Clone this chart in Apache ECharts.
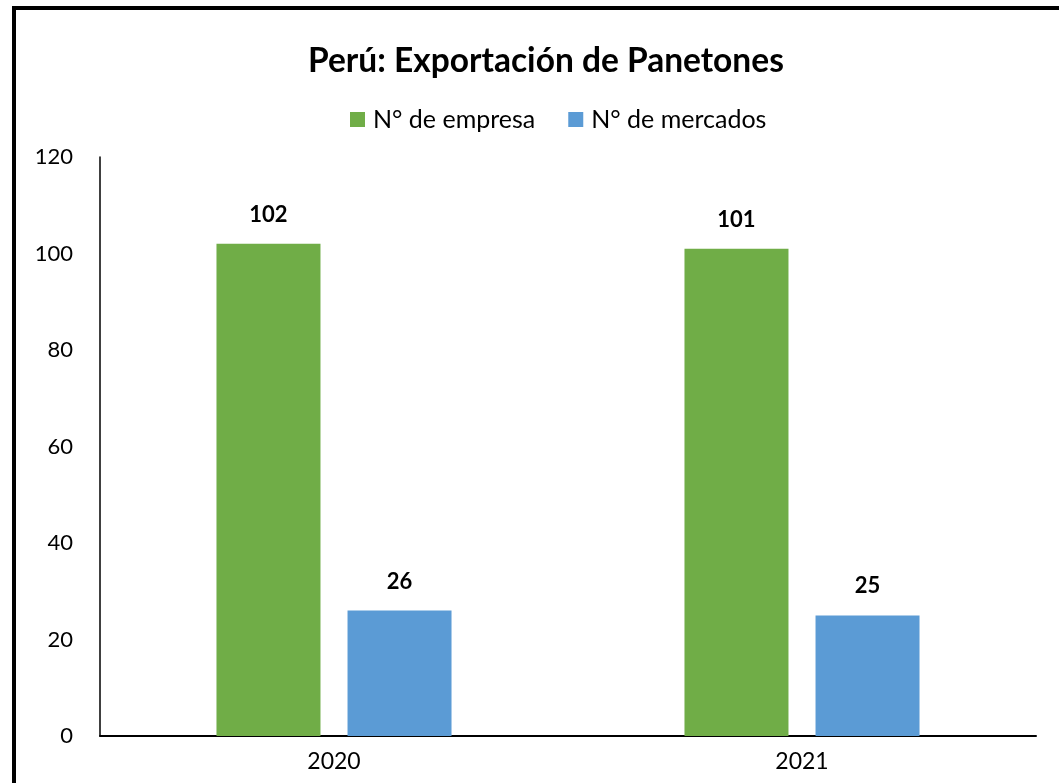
<!DOCTYPE html>
<html>
<head>
<meta charset="utf-8">
<script src="https://cdn.jsdelivr.net/npm/echarts@6/dist/echarts.min.js"></script>
<style>
  html, body { margin: 0; padding: 0; background: #fff; }
  #chart { width: 1059px; height: 783px; }
</style>
</head>
<body>
<div id="chart"></div>
<script>
const years = ['2020', '2021'];
const empresas = [102, 101];
const mercados = [26, 25];
const yTicks = [0, 20, 40, 60, 80, 100, 120];

const font = 'Lato, "Open Sans", sans-serif';

const chart = echarts.init(document.getElementById('chart'));

const labelStyle = {
  show: true,
  position: 'top',
  distance: 18,
  color: '#000',
  fontWeight: 'bold',
  fontSize: 22,
  fontFamily: font
};

chart.setOption({
  backgroundColor: '#fff',
  graphic: [{
    type: 'rect',
    shape: { x: 14, y: 8, width: 1100, height: 850 },
    style: { fill: 'none', stroke: '#000', lineWidth: 4 },
    silent: true
  }],
  title: {
    text: 'Perú: Exportación de Panetones',
    left: 303,
    top: 39,
    textStyle: { fontSize: 33.5, fontWeight: 'bold', color: '#000', fontFamily: font }
  },
  legend: {
    top: 102,
    left: 345,
    itemWidth: 15,
    itemHeight: 15,
    itemGap: 33,
    icon: 'rect',
    textStyle: { fontSize: 25, color: '#000', fontFamily: font, padding: [0, 0, 0, 3] }
  },
  grid: { left: 100, right: 23, top: 157, bottom: 47 },
  xAxis: {
    type: 'category',
    data: years,
    axisLine: { lineStyle: { color: '#000', width: 2 } },
    axisTick: { show: false },
    axisLabel: { color: '#000', fontSize: 23, margin: 14, fontFamily: font }
  },
  yAxis: {
    type: 'value',
    min: yTicks[0],
    max: yTicks[yTicks.length - 1],
    interval: 20,
    axisLine: { show: true, lineStyle: { color: '#000', width: 1.5 } },
    axisTick: { show: false },
    splitLine: { show: false },
    axisLabel: { color: '#000', fontSize: 22, margin: 27, fontFamily: font }
  },
  series: [
    {
      name: 'N° de empresa',
      type: 'bar',
      data: empresas,
      barWidth: 104,
      barGap: '26%',
      itemStyle: { color: '#70AD47' },
      label: labelStyle
    },
    {
      name: 'N° de mercados',
      type: 'bar',
      data: mercados,
      barWidth: 104,
      itemStyle: { color: '#5B9BD5' },
      label: labelStyle
    }
  ]
});
</script>
</body>
</html>
